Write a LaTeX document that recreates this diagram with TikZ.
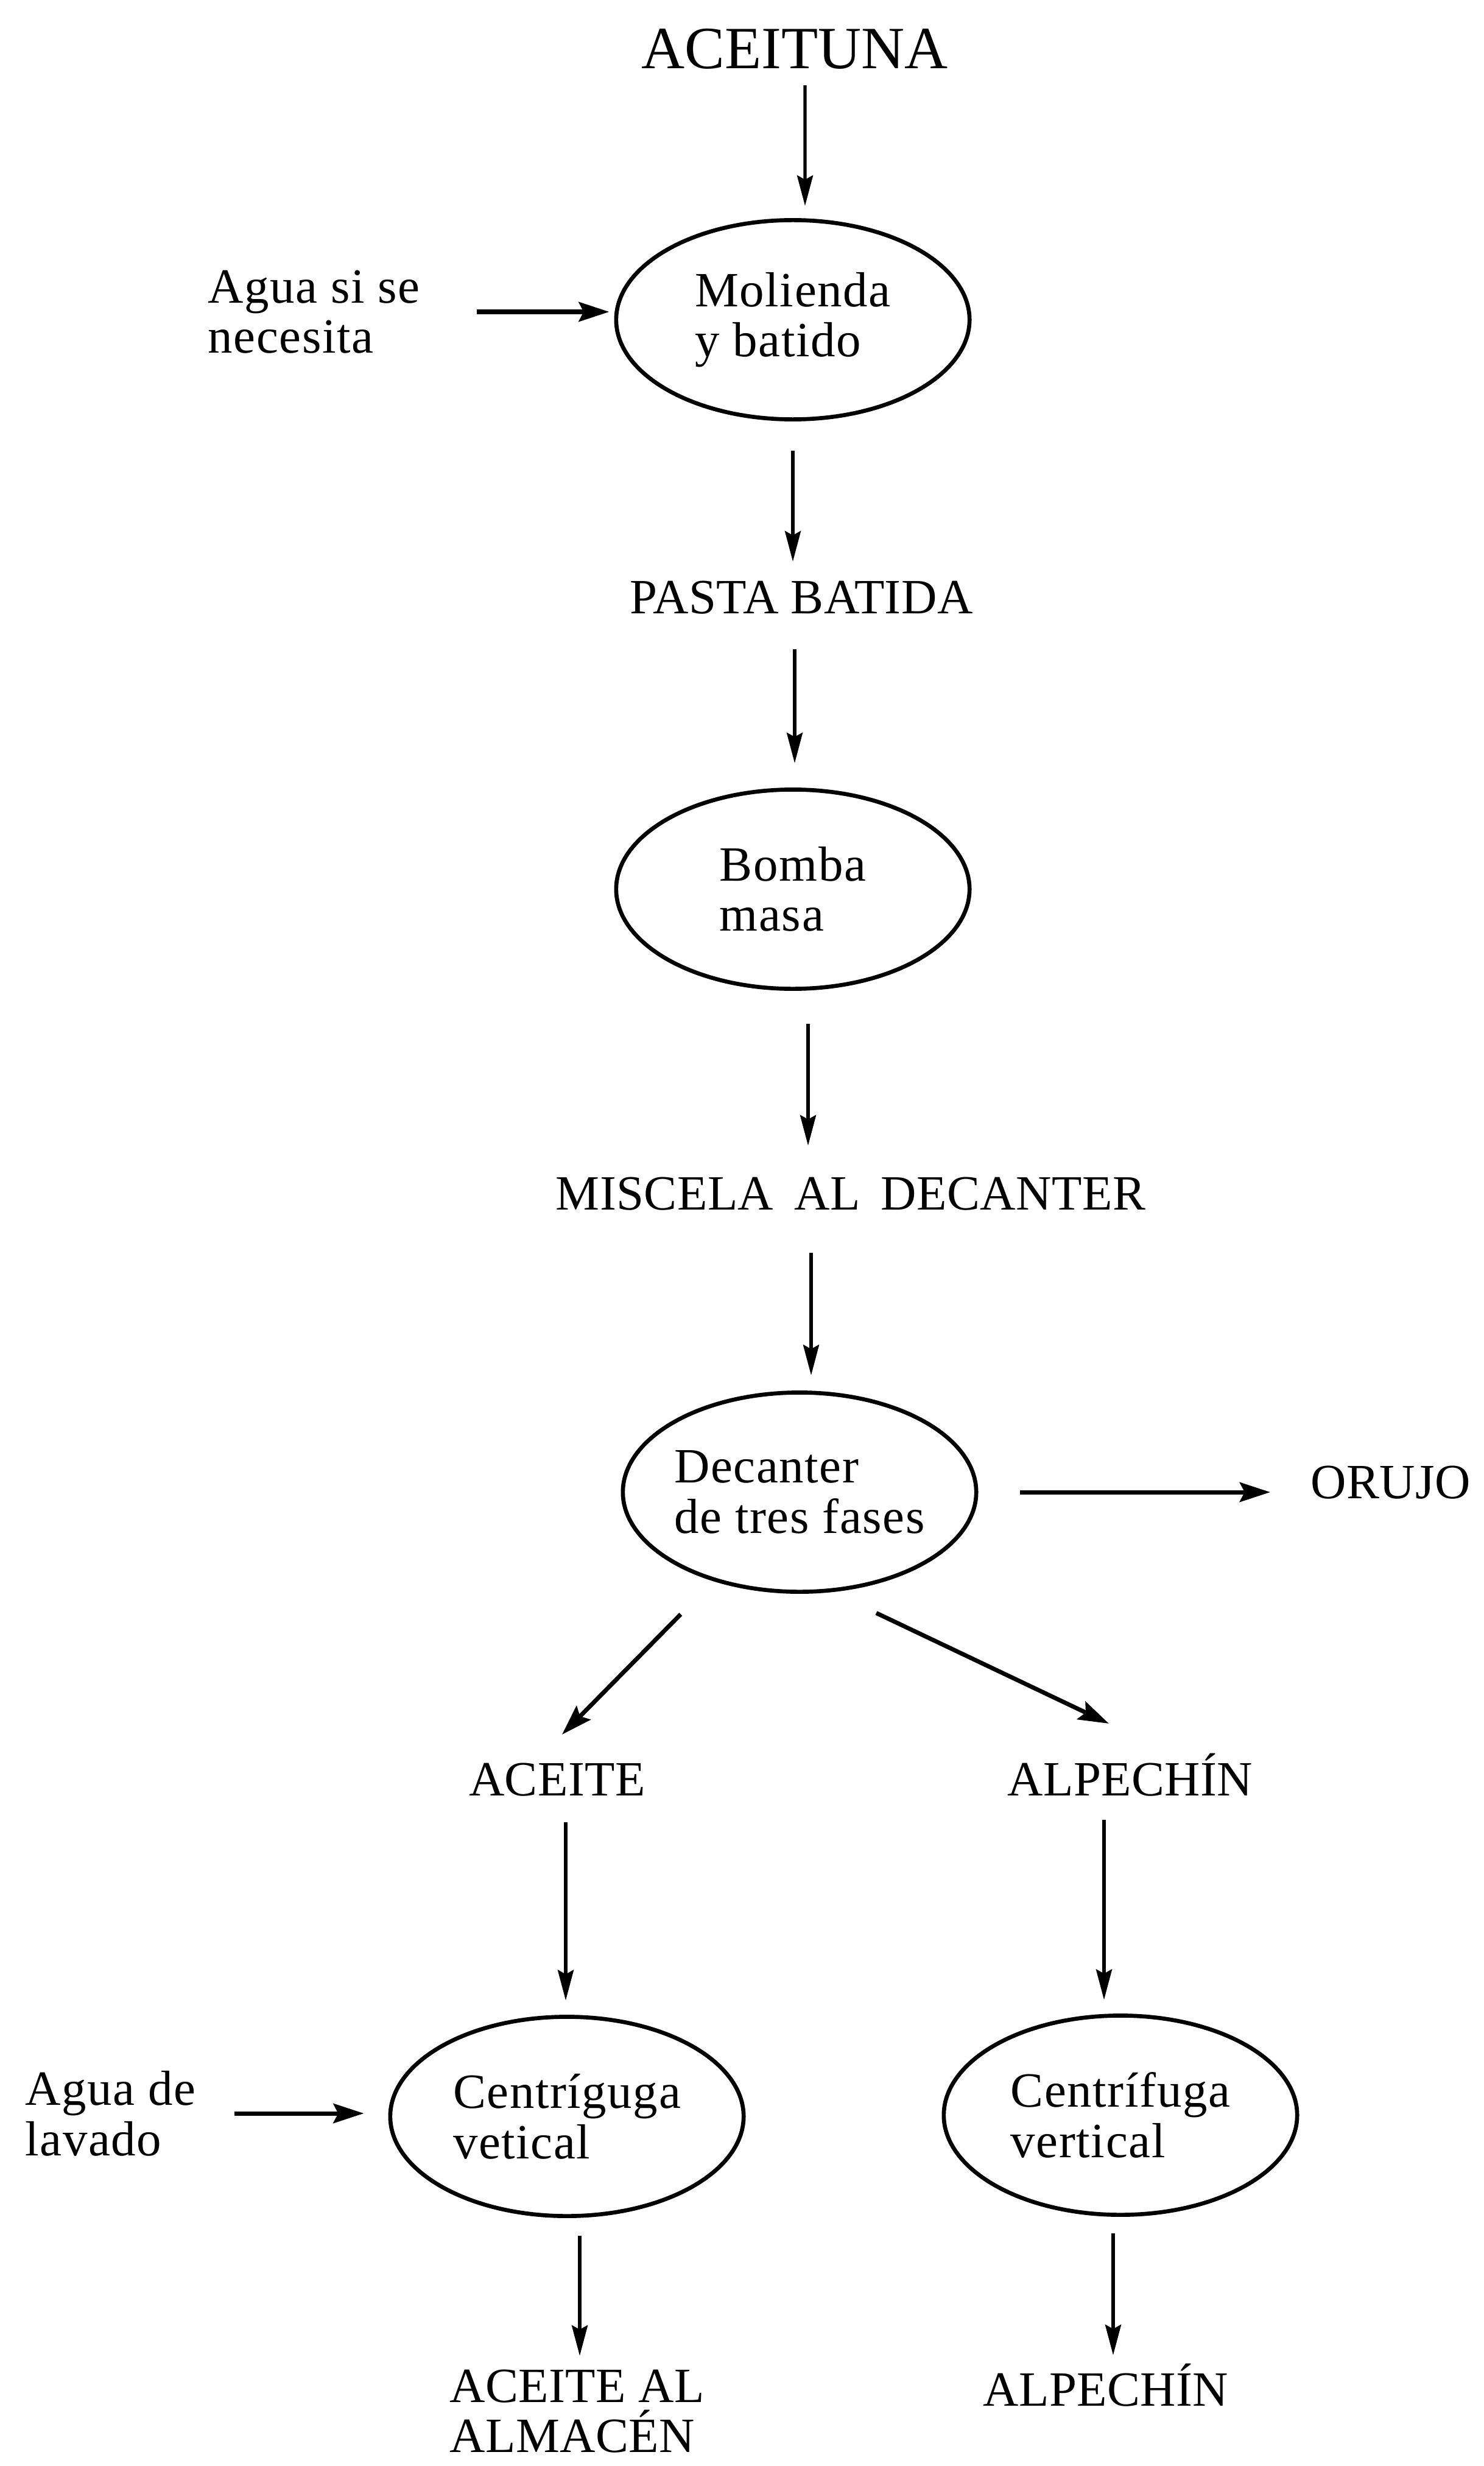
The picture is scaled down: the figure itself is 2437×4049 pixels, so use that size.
\documentclass[tikz,border=0pt]{standalone}
\usepackage{fontspec}
\setmainfont{Liberation Serif}
\newfontfamily\lblfont[LetterSpace=0.5]{Liberation Serif}
\newfontfamily\procfont[LetterSpace=2]{Liberation Serif}
\usetikzlibrary{shapes.geometric,arrows.meta}

\tikzset{
  title/.style={inner sep=0pt, font=\fontsize{28pt}{30pt}\selectfont},
  lbl/.style={inner sep=0pt, font=\lblfont\fontsize{23pt}{23.5pt}\selectfont},
  side/.style={inner sep=0pt, align=left, font=\procfont\fontsize{23pt}{23.5pt}\selectfont},
  proc/.style={draw, line width=1.9pt, ellipse, minimum width=5.8cm,
    minimum height=3.27cm, inner xsep=-0.6cm, inner ysep=0pt, align=left,
    font=\procfont\fontsize{23pt}{23.5pt}\selectfont},
  varr/.style={line width=1.5pt, -{Stealth[length=0.5cm, width=0.26cm, inset=0.07cm]}},
  harr/.style={line width=2pt, -{Stealth[length=0.5cm, width=0.32cm, inset=0.08cm]}},
}

\begin{document}
\begin{tikzpicture}[x=0.01cm, y=-0.01cm]
  \useasboundingbox[fill=white] (0,0) rectangle (2437,4049);

  % nodes of the process
  \node[title, anchor=base] (acei) at (1305,113) {ACEITUNA};
  \node[side, anchor=west] (agua1) at (341,512) {Agua si se\\necesita};
  \node[proc] (mol) at (1302,525) {Molienda\\y batido};
  \node[lbl, anchor=base] (pasta) at (1316,1007) {PASTA BATIDA};
  \node[proc] (bomba) at (1302,1460) {Bomba\\masa};
  \node[lbl, anchor=base] (misc) at (1397,1986) {MISCELA~\,AL~\,DECANTER};
  \node[proc] (dec) at (1313,2450) {Decanter\\de tres fases};
  \node[lbl, anchor=base west] (orujo) at (2152,2460) {ORUJO};
  \node[lbl, anchor=base] (aceite) at (915,2948) {ACEITE};
  \node[lbl, anchor=base] (alpe1) at (1856,2948) {ALPECHÍN};
  \node[side, anchor=west] (agua2) at (41,3470) {Agua de\\lavado};
  \node[proc] (cen1) at (931,3475) {Centríguga\\vetical};
  \node[proc] (cen2) at (1840,3473) {Centrífuga\\vertical};
  \node[lbl, anchor=north west, align=left] (almac) at (738,3890) {ACEITE AL\\ALMACÉN};
  \node[lbl, anchor=base] (alpe2) at (1816,3950) {ALPECHÍN};

  % connectors
  \draw[varr, shorten <=0.27cm, shorten >=0.2cm]
    ([xshift=0.17cm]acei.base) -- ([xshift=0.2cm]mol.north);
  \draw[harr, shorten <=0.92cm, shorten >=0.08cm]
    (agua1.east) -- (agua1.east -| mol.west);
  \draw[varr, shorten <=0.48cm, shorten >=0.85cm]
    (mol.south) -- (mol.south |- pasta.base);
  \draw[varr, shorten <=0.59cm, shorten >=0.4cm]
    ([xshift=-0.11cm]pasta.base) -- ([xshift=-0.11cm]pasta.base |- bomba.north);
  \draw[varr, shorten <=0.545cm, shorten >=1.05cm]
    ([xshift=0.25cm]bomba.south) -- ([xshift=0.25cm]bomba.south |- misc.base);
  \draw[varr, shorten <=0.71cm, shorten >=0.25cm]
    ([xshift=0.19cm]dec.north |- misc.base) -- ([xshift=0.19cm]dec.north);
  \draw[harr, shorten <=0.68cm, shorten >=0.66cm]
    (dec.east) -- (dec.east -| orujo.west);
  \draw[harr]
    ([xshift=-1.95cm, yshift=-0.335cm]dec.south) -- ([xshift=0.08cm, yshift=1.0cm]aceite.base);
  \draw[harr]
    ([xshift=1.26cm, yshift=-0.315cm]dec.south) -- ([xshift=-0.35cm, yshift=1.18cm]alpe1.base);
  \draw[varr, shorten <=0.44cm, shorten >=0.235cm]
    ([xshift=-0.02cm]cen1.north |- aceite.base) -- ([xshift=-0.02cm]cen1.north);
  \draw[varr, shorten <=0.40cm, shorten >=0.225cm]
    ([xshift=-0.27cm]cen2.north |- alpe1.base) -- ([xshift=-0.27cm]cen2.north);
  \draw[harr, shorten <=0.63cm, shorten >=0.40cm]
    (agua2.east) -- (agua2.east -| cen1.west);
  \draw[varr, shorten <=0.285cm, shorten >=0.22cm]
    ([xshift=0.21cm]cen1.south) -- ([xshift=0.21cm]cen1.south |- almac.north);
  \draw[varr, shorten <=0.275cm, shorten >=0.83cm]
    ([xshift=-0.12cm]cen2.south) -- ([xshift=-0.12cm]cen2.south |- alpe2.base);
\end{tikzpicture}
\end{document}
